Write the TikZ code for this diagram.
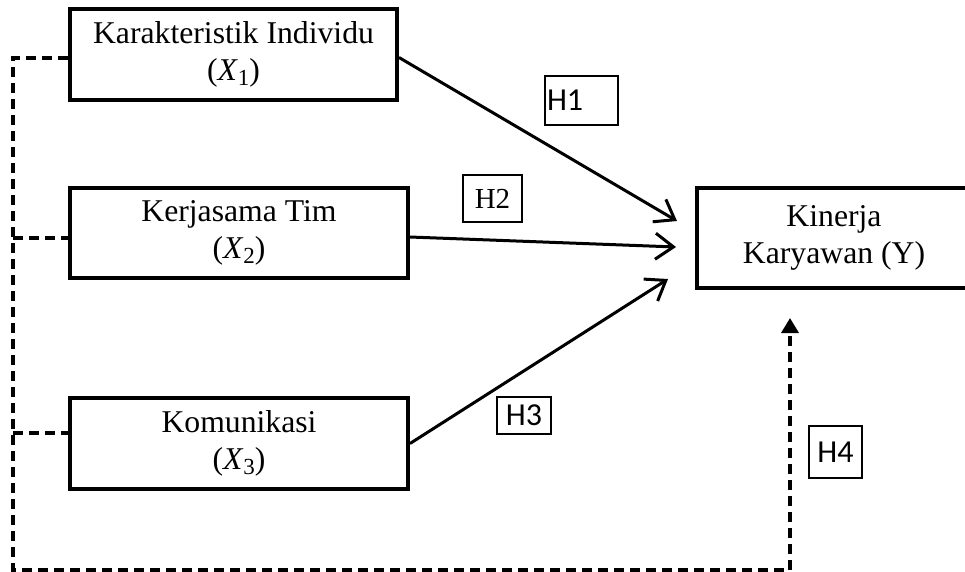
\documentclass[tikz,border=0pt]{standalone}
\usepackage{fontspec}
\setmainfont{Liberation Serif}
\newfontfamily\labfont{Carlito}
\usetikzlibrary{arrows.meta}
\newcommand{\varx}[1]{(\textit{X}\raisebox{-0.35ex}{\fontsize{23}{23}\selectfont #1})}
\begin{document}
\begin{tikzpicture}[x=1pt,y=-1pt,
  varbox/.style={draw, line width=4pt, align=center, font=\fontsize{31.7}{37}\selectfont, inner sep=0pt},
  hbox/.style={draw, line width=2pt, inner sep=0pt},
  sanslab/.style={font=\labfont\fontsize{32}{32}\selectfont},
  solidarrow/.style={line width=3pt, -{Straight Barb[length=18pt,width=26pt]}},
  dashline/.style={line width=3.5pt, dash pattern=on 10pt off 6pt, line join=miter},
]
\useasboundingbox (0,0) rectangle (965,571);
\node[varbox, minimum width=327pt, minimum height=91pt] (X1) at (233.5,54.5) {Karakteristik Individu\\\varx{1}};
\node[varbox, minimum width=338pt, minimum height=90pt] (X2) at (239,233) {Kerjasama Tim\\\varx{2}};
\node[varbox, minimum width=338pt, minimum height=91pt] (X3) at (239,443.5) {Komunikasi\\\varx{3}};
\node[varbox, minimum width=274pt, minimum height=100pt] (Y) at (834,238) {Kinerja\\Karyawan (Y)};

\node[hbox, sanslab, minimum width=73pt, minimum height=49pt, text width=69pt, align=left] (H1) at (581.5,100.5) {H1};
\node[hbox, minimum width=59pt, minimum height=47pt, font=\fontsize{29}{29}\selectfont] (H2) at (492.5,198.5) {H2};
\node[hbox, sanslab, minimum width=54pt, minimum height=37pt] (H3) at (524,415.5) {H3};
\node[hbox, sanslab, minimum width=53pt, minimum height=52pt] (H4) at (835.5,452) {H4};

\coordinate (t1) at (677,221);
\coordinate (t2) at (676,247);
\coordinate (t3) at (668,279);
\draw[solidarrow] ([yshift=-3pt]X1.east) -- (t1);
\draw[solidarrow] ([yshift=-4pt]X2.east) -- (t2);
\draw[solidarrow] (X3.east) -- (t3);

\coordinate (c1) at (13,58);
\coordinate (c2) at (13,570);
\coordinate (c3) at (790,570);
\coordinate (tY) at (790,318);
\coordinate (b2) at (13,238);
\coordinate (b3) at (13,433);
\draw[dashline, -{Triangle[length=15pt,width=17pt]}] ([yshift=-3.5pt]X1.west) -- (c1) -- (c2) -- (c3) -- (tY);
\draw[dashline] (b2) -- (X2.west |- b2);
\draw[dashline] (b3) -- (X3.west |- b3);
\end{tikzpicture}
\end{document}
